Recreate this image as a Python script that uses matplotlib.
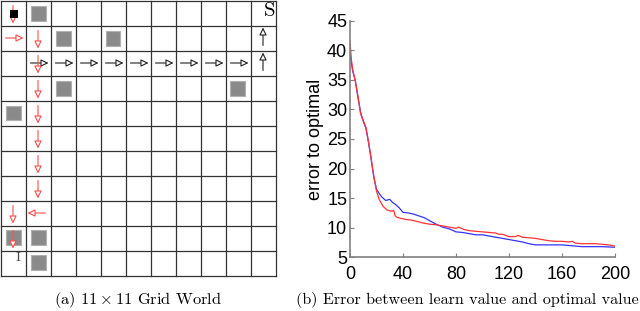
"""
Grid world policy + learning error curves
"""

import matplotlib
matplotlib.use('Agg')
import matplotlib.pyplot as plt
from matplotlib.patches import Rectangle

plt.rcParams['mathtext.fontset'] = 'cm'

# grid world layout (row, col), row 0 = top
n_cells = 11
obstacles = [(0, 1), (1, 2), (1, 4), (3, 2), (3, 9), (4, 0), (9, 0), (9, 1), (10, 1)]
agent_cell = (0, 0)
red_moves = [(0, 0, 'down'), (1, 0, 'right'), (1, 1, 'down'), (2, 1, 'down'), (3, 1, 'down'),
             (4, 1, 'down'), (5, 1, 'down'), (6, 1, 'down'), (7, 1, 'down'),
             (8, 1, 'left'), (8, 0, 'down'), (9, 0, 'down')]
black_moves = [(2, c, 'right') for c in range(1, 10)] + [(1, 10, 'up'), (2, 10, 'up')]

# error curves
red_x = [0, 1, 2, 4, 6, 8, 10, 12, 14, 16, 18, 20, 22, 25, 28, 31, 33, 34, 35, 38, 42, 46, 50,
         55, 60, 65, 70, 75, 80, 82, 86, 90, 95, 100, 105, 110, 112, 115, 120, 125, 127, 130,
         135, 140, 145, 150, 155, 160, 165, 168, 170, 175, 180, 185, 190, 195, 200]
red_y = [41.5, 38.5, 36.8, 34.8, 32.3, 29.3, 28.1, 27.0, 24.5, 21.7, 18.7, 16.2, 14.8, 13.6,
         13.0, 12.8, 12.9, 12.1, 11.8, 11.6, 11.4, 11.3, 11.1, 10.8, 10.6, 10.5, 10.3, 10.1,
         9.9, 10.1, 9.7, 9.5, 9.4, 9.3, 9.2, 9.1, 8.9, 8.9, 8.5, 8.5, 8.7, 8.4, 8.3, 8.2, 8.0,
         7.8, 7.7, 7.7, 7.6, 7.7, 7.4, 7.3, 7.3, 7.3, 7.2, 7.1, 6.9]
blue_x = [0, 1, 2, 4, 6, 8, 10, 12, 14, 16, 18, 20, 22, 24, 27, 30, 32, 34, 37, 40, 44, 48, 52,
          56, 60, 65, 70, 75, 80, 85, 90, 95, 100, 110, 120, 130, 135, 140, 150, 160, 165, 170,
          175, 180, 190, 200]
blue_y = [39.5, 38.0, 36.5, 34.9, 32.0, 29.5, 28.0, 26.8, 24.4, 21.5, 18.5, 16.5, 15.8, 15.2,
          14.6, 14.8, 14.3, 14.0, 13.4, 12.6, 12.5, 12.3, 12.0, 11.7, 11.2, 10.6, 10.1, 9.8,
          9.3, 9.2, 9.0, 8.8, 8.8, 8.4, 8.0, 7.6, 7.3, 7.1, 7.1, 7.1, 7.0, 6.9, 6.8, 6.8, 6.8, 6.7]
x_ticks = [0, 40, 80, 120, 160, 200]
y_ticks = [5, 10, 15, 20, 25, 30, 35, 40, 45]

fig = plt.figure(figsize=(6.4, 3.11), dpi=100)

# ---- (a) grid world ----
axg = fig.add_axes([0.5 / 640, 35.5 / 311, 275 / 640, 275 / 311])
axg.set_xlim(0, n_cells)
axg.set_ylim(n_cells, 0)
axg.axis('off')
for i in range(n_cells + 1):
    axg.plot([i, i], [0, n_cells], color='#333333', lw=0.9, clip_on=False)
    axg.plot([0, n_cells], [i, i], color='#333333', lw=0.9, clip_on=False)

sq = 0.6
for r, c in obstacles:
    axg.add_patch(Rectangle((c + 0.5 - sq / 2, r + 0.5 - sq / 2), sq, sq,
                            facecolor='#8a8a8a', edgecolor='#b0b0b0', lw=0.8, zorder=2))

offsets = {'down': (0, 1), 'up': (0, -1), 'right': (1, 0), 'left': (-1, 0)}

def draw_move(r, c, d, color):
    dx, dy = offsets[d]
    cx, cy = c + 0.5, r + 0.5
    start = (cx - dx * 0.3, cy - dy * 0.3)
    end = (cx + dx * 0.42, cy + dy * 0.42)
    axg.annotate('', xy=end, xytext=start,
                 arrowprops=dict(arrowstyle='-|>,head_length=0.45,head_width=0.22',
                                 mutation_scale=10, shrinkA=0, shrinkB=0,
                                 fc='white', ec=color, lw=0.8), zorder=3)

for r, c, d in black_moves:
    draw_move(r, c, d, '#222222')
for r, c, d in red_moves:
    draw_move(r, c, d, '#ff4d4d')

ar, ac = agent_cell
axg.add_patch(Rectangle((ac + 0.38, ar + 0.36), 0.3, 0.32, facecolor='black', zorder=4))
axg.text(n_cells - 0.02, 0.05, 'S', ha='right', va='top', fontsize=15, fontfamily='cmr10')
axg.text(0.72, 10.3, 'I', ha='center', va='center', fontsize=10, fontfamily='cmr10', color='#444444')

# ---- (b) error curves ----
ax = fig.add_axes([350 / 640, 53.7 / 311, 265 / 640, 236.6 / 311])
ax.plot(blue_x, blue_y, color='#3333ff', lw=0.9)
ax.plot(red_x, red_y, color='#ff3333', lw=0.9)
ax.set_xlim(0, 200)
ax.set_ylim(5, 45)
ax.set_xticks(x_ticks)
ax.set_yticks(y_ticks)
for s in ['top', 'right']:
    ax.spines[s].set_visible(False)
for s in ['left', 'bottom']:
    ax.spines[s].set_color('#808080')
    ax.spines[s].set_linewidth(1.2)
ax.tick_params(direction='in', length=3, color='#808080', labelsize=13)
ax.tick_params(axis='y', pad=2)
ax.tick_params(axis='x', pad=6)
for lab in ax.get_xticklabels() + ax.get_yticklabels():
    lab.set_fontfamily('Liberation Sans')
ax.set_ylabel('error to optimal', fontsize=13, fontfamily='Liberation Sans', labelpad=2)

# captions
fig.text(138 / 640, 1 - 300 / 311, r'(a) $11 \times 11$ Grid World', ha='center', va='center',
         fontsize=11.8, fontfamily='cmr10')
fig.text(467 / 640, 1 - 300 / 311, '(b) Error between learn value and optimal value',
         ha='center', va='center', fontsize=11.6, fontfamily='cmr10')

fig.savefig('out.png', dpi=100)
